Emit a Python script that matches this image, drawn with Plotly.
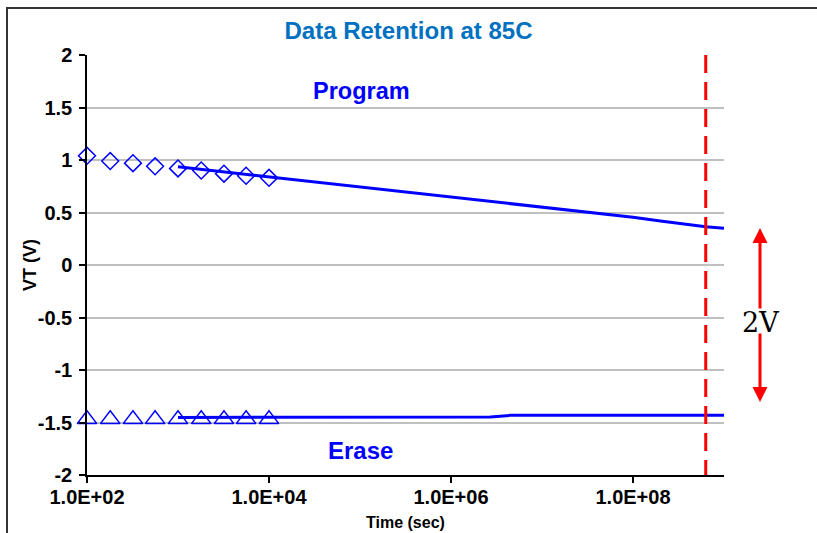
import plotly.graph_objects as go

# ---- data ----
meas_time = [100, 180, 320, 560, 1000, 1800, 3200, 5600, 10000]
program_vt = [1.04, 0.99, 0.97, 0.94, 0.92, 0.90, 0.87, 0.85, 0.83]
erase_vt = [-1.47, -1.47, -1.47, -1.47, -1.47, -1.47, -1.47, -1.47, -1.47]

prog_fit_time = [1e3, 1e4, 1e5, 1e6, 1e7, 1e8, 2e8, 4e8, 6.3e8, 1e9]
prog_fit_vt = [0.935, 0.84, 0.745, 0.65, 0.555, 0.455, 0.42, 0.385, 0.365, 0.35]

erase_fit_time = [1e3, 1e4, 1e5, 1e6, 2.7e6, 4.5e6, 1e7, 1e8, 1e9]
erase_fit_vt = [-1.452, -1.451, -1.45, -1.449, -1.447, -1.432, -1.432, -1.431, -1.43]

ten_years_x = [6.3e8, 6.3e8]
ten_years_y = [2, -2]

x_tickvals = [1e2, 1e4, 1e6, 1e8]
x_ticktext = ["1.0E+02", "1.0E+04", "1.0E+06", "1.0E+08"]
y_tickvals = [2, 1.5, 1, 0.5, 0, -0.5, -1, -1.5, -2]
y_ticktext = ["2", "1.5", "1", "0.5", "0", "-0.5", "-1", "-1.5", "-2"]

BLUE = "#0000FF"
FONT = "Liberation Sans"

fig = go.Figure()

fig.add_trace(go.Scatter(x=prog_fit_time, y=prog_fit_vt, mode="lines",
                         line=dict(color=BLUE, width=3), showlegend=False))
fig.add_trace(go.Scatter(x=erase_fit_time, y=erase_fit_vt, mode="lines",
                         line=dict(color=BLUE, width=3), showlegend=False))
fig.add_trace(go.Scatter(x=meas_time, y=program_vt, mode="markers", cliponaxis=False,
                         marker=dict(symbol="diamond-open", size=13, color=BLUE,
                                     line=dict(color=BLUE, width=1.5)),
                         showlegend=False))
fig.add_trace(go.Scatter(x=meas_time, y=erase_vt, mode="markers", cliponaxis=False,
                         marker=dict(symbol="triangle-up-open", size=17, color=BLUE,
                                     line=dict(color=BLUE, width=1.5)),
                         showlegend=False))
fig.add_trace(go.Scatter(x=ten_years_x, y=ten_years_y, mode="lines",
                         line=dict(color="#FF0000", width=3, dash="18px,9px"),
                         showlegend=False))

fig.update_layout(
    width=817, height=533,
    margin=dict(l=87, r=93, t=55, b=58),
    paper_bgcolor="white", plot_bgcolor="white",
    font=dict(family=FONT, color="black"),
    title=dict(text="<b>Data Retention at 85C</b>", x=0.5, xanchor="center",
               y=1 - 31 / 533, yanchor="middle",
               font=dict(family=FONT, size=24, color="#0070C0")),
    xaxis=dict(type="log", range=[2, 9], tickvals=x_tickvals, ticktext=x_ticktext,
               showgrid=False, showline=True, linecolor="black", linewidth=1.5,
               ticks="outside", ticklen=6, tickcolor="black", tickwidth=1.5,
               ticklabelstandoff=-3,
               tickfont=dict(family=FONT, size=20, color="black", weight="bold"),
               zeroline=False),
    yaxis=dict(range=[-2, 2], tickvals=y_tickvals, ticktext=y_ticktext,
               showgrid=True, gridcolor="#C0C0C0", gridwidth=1.5,
               showline=True, linecolor="black", linewidth=1.5,
               ticks="outside", ticklen=6, tickcolor="black", tickwidth=1.5,
               ticklabelstandoff=3,
               tickfont=dict(family=FONT, size=20, color="black", weight="bold"),
               zeroline=False),
    shapes=[
        dict(type="rect", xref="paper", yref="paper",
             x0=(7 - 87) / 637, x1=(840 - 87) / 637,
             y0=(475 - 560) / 420, y1=(475 - 8) / 420,
             line=dict(color="#333333", width=2), layer="below"),
    ],
    annotations=[
        dict(text="<b>Program</b>", x=5.02, y=1.657, xref="x", yref="y",
             showarrow=False, font=dict(family=FONT, size=23.5, color=BLUE)),
        dict(text="<b>Erase</b>", x=5.0, y=-1.77, xref="x", yref="y",
             showarrow=False, font=dict(family=FONT, size=24, color=BLUE)),
        dict(text="<b>Time (sec)</b>", x=0.5, y=(475 - 522) / 420, xref="paper", yref="paper",
             showarrow=False, yanchor="middle", font=dict(family=FONT, size=16, color="black")),
        dict(text="<b>VT (V)</b>", x=(30 - 87) / 637, y=0.5, xref="paper", yref="paper",
             showarrow=False, textangle=-90, xanchor="center", yanchor="middle",
             font=dict(family=FONT, size=18, color="black")),
        dict(text="2V", x=(760 - 87) / 637, y=-0.543, xref="paper", yref="y",
             xanchor="center", yanchor="middle",
             showarrow=False, font=dict(family="DejaVu Serif", size=27, color="black")),
        dict(text="", x=(760 - 87) / 637, y=0.352, xref="paper", yref="y",
             showarrow=True, ax=0, ay=82, arrowhead=2, arrowsize=1, arrowwidth=3,
             arrowcolor="#FF0000"),
        dict(text="", x=(760 - 87) / 637, y=-1.305, xref="paper", yref="y",
             showarrow=True, ax=0, ay=-70, arrowhead=2, arrowsize=1, arrowwidth=3,
             arrowcolor="#FF0000"),
    ],
)

fig.write_html("out.html")
